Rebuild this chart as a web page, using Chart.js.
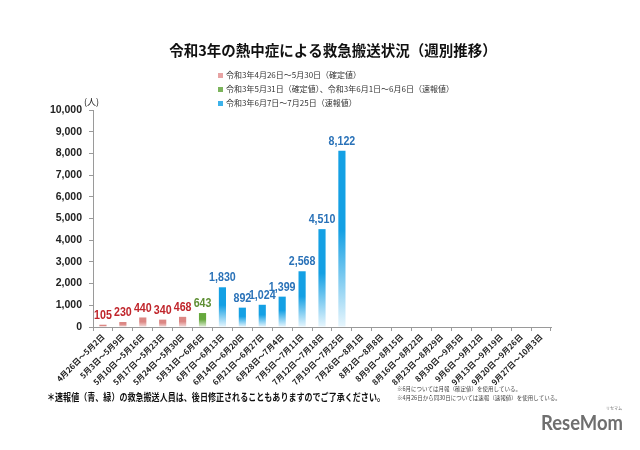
<!DOCTYPE html>
<html>
<head>
<meta charset="utf-8">
<script src="https://cdn.jsdelivr.net/npm/chart.js@4"></script>
<style>
  html, body { margin: 0; padding: 0; background: #fff; }
  #wrap { width: 640px; height: 450px; position: relative; }
</style>
</head>
<body>
<div id="wrap"><canvas id="myChart" width="640" height="450"></canvas></div>
<script>
const weeks = ['4月26日～5月2日', '5月3日～5月9日', '5月10日～5月16日', '5月17日～5月23日', '5月24日～5月30日',
  '5月31日～6月6日', '6月7日～6月13日', '6月14日～6月20日', '6月21日～6月27日', '6月28日～7月4日',
  '7月5日～7月11日', '7月12日～7月18日', '7月19日～7月25日', '7月26日～8月1日', '8月2日～8月8日',
  '8月9日～8月15日', '8月16日～8月22日', '8月23日～8月29日', '8月30日～9月5日', '9月6日～9月12日',
  '9月13日～9月19日', '9月20日～9月26日', '9月27日～10月3日'];
const patients = [105, 230, 440, 340, 468, 643, 1830, 892, 1024, 1399, 2568, 4510, 8122,
  null, null, null, null, null, null, null, null, null, null];
// 0 = 確定値, 1 = 確定値+速報値, 2 = 速報値
const group = [0, 0, 0, 0, 0, 1, 2, 2, 2, 2, 2, 2, 2, 2, 2, 2, 2, 2, 2, 2, 2, 2, 2];
const legendText = ['令和3年4月26日～5月30日（確定値）',
  '令和3年5月31日（確定値）、令和3年6月1日～6月6日（速報値）',
  '令和3年6月7日～7月25日（速報値）'];
const barTop = ['#dc8784', '#66a83d', '#14a0e4'];
const barBottom = ['#f6e0df', '#e3f0da', '#e8f6fd'];
const labelColor = ['#c0252b', '#5e8f34', '#2a72b8'];
const legendColor = ['#e7a3a3', '#7cb45c', '#3cb2ea'];

const jp = '"Noto Sans CJK JP", sans-serif';

const extras = {
  id: 'extras',
  afterDatasetsDraw(chart) {
    const ctx = chart.ctx;
    const meta = chart.getDatasetMeta(0);
    ctx.save();
    ctx.textAlign = 'center';
    ctx.textBaseline = 'bottom';
    ctx.font = 'bold 13px "Liberation Sans", sans-serif';
    meta.data.forEach((bar, i) => {
      if (patients[i] == null) return;
      const t = patients[i].toLocaleString('en-US');
      ctx.fillStyle = labelColor[group[i]];
      // narrower, Calibri-like numbers
      ctx.fillText(t, bar.x, bar.y - 3, ctx.measureText(t).width * 0.82);
    });
    ctx.restore();
  },
  afterDraw(chart) {
    const ctx = chart.ctx;
    ctx.save();
    // title
    ctx.fillStyle = '#111';
    ctx.textAlign = 'center';
    ctx.textBaseline = 'middle';
    ctx.font = 'bold 14.5px ' + jp;
    ctx.fillText('令和3年の熱中症による救急搬送状況（週別推移）', 333, 50);
    // legend
    ctx.textAlign = 'left';
    ctx.font = '8px ' + jp;
    legendText.forEach((t, i) => {
      const y = 75 + i * 14;
      ctx.fillStyle = legendColor[i];
      ctx.fillRect(218, y - 2, 5, 5);
      ctx.fillStyle = '#333';
      ctx.fillText(t, 226, y);
    });
    // unit
    ctx.font = '9px ' + jp;
    ctx.fillStyle = '#222';
    ctx.fillText('(人)', 84, 102);
    // notes
    ctx.font = 'bold 10px ' + jp;
    ctx.fillStyle = '#111';
    ctx.fillText('＊速報値（青、緑）の救急搬送人員は、後日修正されることもありますのでご了承ください。', 47, 397, 338);
    ctx.font = '5.5px ' + jp;
    ctx.fillStyle = '#444';
    ctx.fillText('※6月については月報（確定値）を使用している。', 397, 389);
    ctx.fillText('※4月26日から同30日については速報（速報値）を使用している。', 397, 398);
    // watermark
    ctx.textBaseline = 'alphabetic';
    ctx.font = 'bold 21px Lato, sans-serif';
    ctx.fillStyle = '#6f6f6f';
    ctx.fillText('ReseMom', 541, 430, 82);
    ctx.font = '4px ' + jp;
    ctx.fillText('リセマム', 606, 410);
    ctx.restore();
  }
};

function barFill(c) {
  const chart = c.chart;
  const i = c.dataIndex;
  const g = group[i] ?? 2;
  if (!chart.chartArea || c.raw == null) return barTop[g];
  const y = chart.scales.y;
  const top = y.getPixelForValue(c.raw);
  const bottom = y.getPixelForValue(0);
  const grad = chart.ctx.createLinearGradient(0, top, 0, bottom);
  grad.addColorStop(0, barTop[g]);
  grad.addColorStop(0.45, barTop[g]);
  grad.addColorStop(1, barBottom[g]);
  return grad;
}

new Chart(document.getElementById('myChart'), {
  type: 'bar',
  data: {
    labels: weeks,
    datasets: [{
      data: patients,
      backgroundColor: barFill,
      borderWidth: 0,
      categoryPercentage: 1,
      barPercentage: 0.36
    }]
  },
  options: {
    responsive: false,
    animation: false,
    layout: { padding: { left: 0, top: 110, right: 89, bottom: 0 } },
    plugins: { legend: { display: false }, tooltip: { enabled: false } },
    scales: {
      x: {
        afterFit(scale) { scale.height = 123; },
        border: { color: '#9a9a9a' },
        grid: { drawOnChartArea: false, tickLength: 4, color: '#9a9a9a' },
        ticks: {
          minRotation: 45, maxRotation: 45, autoSkip: false, padding: 1,
          color: '#222', font: { family: jp, size: 8, weight: 'bold' }
        }
      },
      y: {
        min: 0, max: 10000,
        afterFit(scale) { scale.width = 93; },
        border: { color: '#9a9a9a' },
        grid: { drawOnChartArea: false, tickLength: 4, color: '#9a9a9a' },
        ticks: {
          stepSize: 1000, padding: 7, color: '#222',
          font: { family: '"Liberation Sans", sans-serif', size: 10.5, weight: 'bold' },
          callback: v => v.toLocaleString('en-US')
        }
      }
    }
  },
  plugins: [extras]
});
</script>
</body>
</html>
